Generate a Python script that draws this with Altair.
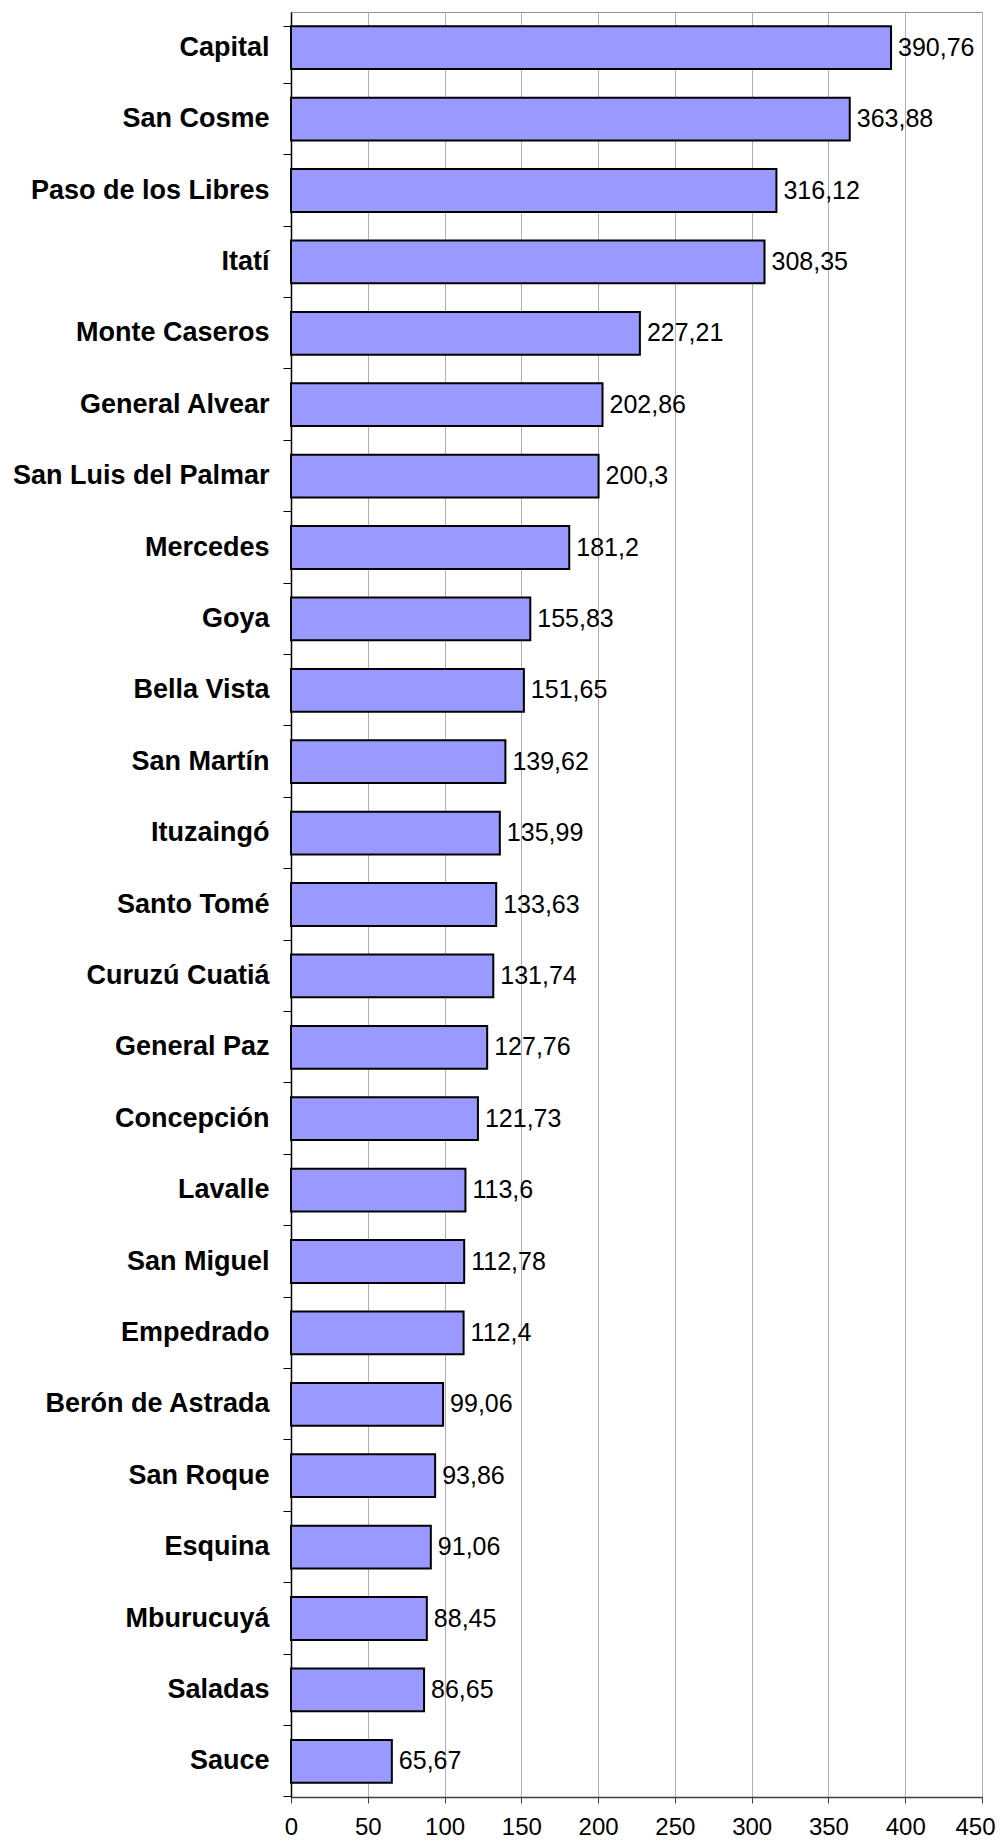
import altair as alt
import pandas as pd

departamentos = [
    "Capital", "San Cosme", "Paso de los Libres", "Itatí", "Monte Caseros",
    "General Alvear", "San Luis del Palmar", "Mercedes", "Goya", "Bella Vista",
    "San Martín", "Ituzaingó", "Santo Tomé", "Curuzú Cuatiá", "General Paz",
    "Concepción", "Lavalle", "San Miguel", "Empedrado", "Berón de Astrada",
    "San Roque", "Esquina", "Mburucuyá", "Saladas", "Sauce",
]
valores = [
    390.76, 363.88, 316.12, 308.35, 227.21,
    202.86, 200.3, 181.2, 155.83, 151.65,
    139.62, 135.99, 133.63, 131.74, 127.76,
    121.73, 113.6, 112.78, 112.4, 99.06,
    93.86, 91.06, 88.45, 86.65, 65.67,
]
x_ticks = [0, 50, 100, 150, 200, 250, 300, 350, 400, 450]

df = pd.DataFrame({"dep": departamentos, "val": valores})

y_enc = alt.Y(
    "dep:N",
    sort=departamentos,
    title=None,
    scale=alt.Scale(paddingInner=0.4, paddingOuter=0.2),
    axis=alt.Axis(
        bandPosition=1.3333,
        tickExtra=True,
        tickSize=8,
        tickColor="#000000",
        domainColor="#000000",
        domainWidth=1.5,
        labelFont="Liberation Sans",
        labelFontWeight="bold",
        labelFontSize=27,
        labelColor="#000000",
        labelPadding=14,
        grid=False,
        labelLimit=400,
    ),
)
x_enc = alt.X(
    "val:Q",
    title=None,
    scale=alt.Scale(domain=[0, 450], nice=False),
    axis=alt.Axis(
        values=x_ticks,
        tickSize=6,
        tickColor="#404040",
        domainColor="#404040",
        domainWidth=1.5,
        grid=True,
        gridColor="#b0b0b0",
        gridWidth=1,
        labelFont="Liberation Sans",
        labelFontSize=24,
        labelColor="#000000",
        labelPadding=12,
        labelFlush=False,
        labelOffset={"condition": {"test": "datum.value == 450", "value": -7}, "value": 0},
        format="d",
    ),
)

base = alt.Chart(df).encode(y=y_enc, x=x_enc)

bars = base.mark_bar(color="#9999ff", stroke="#000000", strokeWidth=2)

text = base.transform_calculate(
    lab="replace(format(datum.val, ''), '.', ',')"
).mark_text(
    align="left", baseline="middle", dx=7, font="Liberation Sans",
    fontSize=25, color="#000000"
).encode(text="lab:N")

chart = (bars + text).properties(
    width=691,
    height=1785,
    autosize=alt.AutoSizeParams(type="none"),
    padding={"left": 283, "top": 4, "right": 15, "bottom": 45},
).configure_view(stroke="#909090", strokeWidth=1)

chart.save("out.html", embed_options={"renderer": "svg", "actions": False})
